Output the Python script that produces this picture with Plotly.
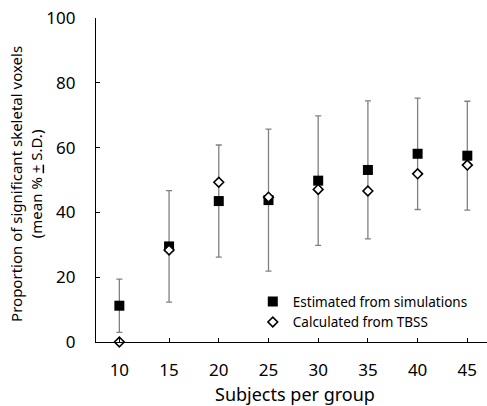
import plotly.graph_objects as go

subjects = [10, 15, 20, 25, 30, 35, 40, 45]
estimated_mean = [11.2, 29.5, 43.5, 43.8, 49.8, 53.1, 58.1, 57.5]
estimated_sd = [8.2, 17.2, 17.3, 21.9, 20.0, 21.3, 17.2, 16.8]
tbss_values = [0.0, 28.4, 49.3, 44.7, 47.1, 46.6, 51.9, 54.6]
y_ticks = [0, 20, 40, 60, 80, 100]

FONT = "Noto Sans"

fig = go.Figure()
fig.add_trace(go.Scatter(
    x=subjects, y=estimated_mean, mode="markers",
    name="Estimated from simulations",
    marker=dict(symbol="square", size=10, color="black"),
    error_y=dict(type="data", array=estimated_sd, visible=True,
                 color="#808080", thickness=1.3, width=3),
    cliponaxis=False,
))
fig.add_trace(go.Scatter(
    x=subjects, y=tbss_values, mode="markers",
    name="Calculated from TBSS",
    marker=dict(symbol="diamond", size=7.5, color="white",
                line=dict(color="black", width=1.6)),
    cliponaxis=False,
))

fig.update_layout(
    width=487, height=406,
    margin=dict(l=96, r=0, t=18, b=64),
    paper_bgcolor="white", plot_bgcolor="white",
    font=dict(family=FONT, color="black"),
    showlegend=True,
    legend=dict(x=0.401, y=0.092, xanchor="left", yanchor="middle",
                bgcolor="rgba(0,0,0,0)", font=dict(size=13.5, family=FONT),
                itemwidth=30, tracegroupgap=0),
    xaxis=dict(range=[7.65, 46.98], tickvals=subjects, automargin=False,
               ticks="inside", ticklen=4, tickwidth=1.2, tickcolor="black",
               showline=True, linecolor="black", linewidth=1.3,
               showgrid=False, zeroline=False,
               tickfont=dict(size=17), ticklabelstandoff=12),
    yaxis=dict(range=[0, 100], tickvals=y_ticks, automargin=False,
               ticks="inside", ticklen=4, tickwidth=1.2, tickcolor="black",
               showline=True, linecolor="black", linewidth=1.3,
               showgrid=False, zeroline=False,
               tickfont=dict(size=17), ticklabelstandoff=16),
)
fig.add_annotation(
    text="Subjects per group",
    xref="paper", yref="paper", x=(295 - 96) / 391, y=(342 - 394) / 324,
    xanchor="center", yanchor="middle",
    showarrow=False, font=dict(size=18, family=FONT),
)
fig.add_annotation(
    text="Proportion of significant skeletal voxels<br>(mean % <u>+</u> S.D.)",
    xref="paper", yref="paper", x=-0.179, y=0.488,
    xanchor="center", yanchor="middle", textangle=-90,
    showarrow=False, font=dict(size=15, family=FONT),
)
fig.write_html("out.html", post_script="document.body.style.margin='0';",
               config={"displayModeBar": False})
